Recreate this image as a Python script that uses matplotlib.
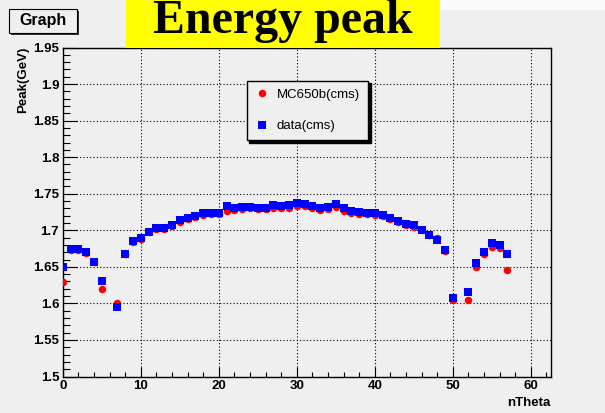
import numpy as np
import matplotlib
matplotlib.use("Agg")
import matplotlib.pyplot as plt
from matplotlib.patches import Rectangle
from matplotlib.ticker import MultipleLocator, FuncFormatter

# nTheta bins (6 and 51 have no entry)
n_theta = [0, 1, 2, 3, 4, 5, 7, 8, 9, 10, 11, 12, 13, 14, 15, 16, 17, 18, 19, 20,
           21, 22, 23, 24, 25, 26, 27, 28, 29, 30, 31, 32, 33, 34, 35, 36, 37, 38,
           39, 40, 41, 42, 43, 44, 45, 46, 47, 48, 49, 50, 52, 53, 54, 55, 56, 57]

# fitted peak positions (GeV)
peak_mc = [1.629, 1.673, 1.673, 1.669, 1.656, 1.619, 1.600, 1.667, 1.684, 1.688,
           1.697, 1.702, 1.702, 1.706, 1.712, 1.716, 1.718, 1.721, 1.722, 1.722,
           1.727, 1.728, 1.729, 1.730, 1.729, 1.729, 1.731, 1.730, 1.731, 1.733,
           1.733, 1.731, 1.728, 1.729, 1.732, 1.727, 1.724, 1.722, 1.722, 1.721,
           1.719, 1.715, 1.711, 1.707, 1.705, 1.700, 1.693, 1.690, 1.672, 1.605,
           1.604, 1.650, 1.668, 1.677, 1.676, 1.645]
peak_data = [1.650, 1.675, 1.675, 1.670, 1.657, 1.630, 1.595, 1.668, 1.685, 1.689,
             1.698, 1.703, 1.703, 1.707, 1.714, 1.717, 1.720, 1.723, 1.724, 1.724,
             1.733, 1.731, 1.732, 1.732, 1.731, 1.731, 1.735, 1.733, 1.735, 1.737,
             1.736, 1.733, 1.731, 1.732, 1.736, 1.730, 1.726, 1.725, 1.724, 1.723,
             1.721, 1.717, 1.713, 1.709, 1.707, 1.701, 1.694, 1.687, 1.673, 1.607,
             1.615, 1.655, 1.670, 1.682, 1.680, 1.667]

W, H = 605, 413
bg = "#efefef"
sans = ["Liberation Sans", "DejaVu Sans"]

fig = plt.figure(figsize=(W / 100, H / 100), dpi=100, facecolor=bg)
ax = fig.add_axes([62.7 / W, 1 - 376.5 / H, (551 - 62.7) / W, (376.5 - 47.5) / H])
ax.set_facecolor(bg)

ax.plot(n_theta, peak_mc, "o", color="red", ms=5.4, mew=0, label="MC650b(cms)", zorder=3)
ax.plot(n_theta, peak_data, "s", color="blue", ms=5.8, mew=0, label="data(cms)", zorder=4)

ax.set_xlim(0, 62.6)
ax.set_ylim(1.5, 1.95)

ax.xaxis.set_major_locator(MultipleLocator(10))
ax.xaxis.set_minor_locator(MultipleLocator(2))
ax.yaxis.set_major_locator(MultipleLocator(0.05))
ax.yaxis.set_minor_locator(MultipleLocator(0.01))
ax.yaxis.set_major_formatter(FuncFormatter(lambda v, p: f"{v:g}"))

ax.tick_params(axis="both", which="both", direction="in", top=False, right=False,
               color="black", width=0.8)
ax.tick_params(axis="y", which="major", length=10, pad=2.5)
ax.tick_params(axis="y", which="minor", length=5)
ax.tick_params(axis="x", which="major", length=7, pad=2.5)
ax.tick_params(axis="x", which="minor", length=3.6)
for lab in ax.get_xticklabels() + ax.get_yticklabels():
    lab.set_fontfamily(sans)
    lab.set_fontweight("bold")
    lab.set_fontsize(9.5)

ax.grid(True, which="major", color="black", linestyle=(0, (1, 2)), linewidth=0.8)
for sp in ax.spines.values():
    sp.set_linewidth(1.0)
    sp.set_color("black")

leg = ax.legend(loc="upper left", bbox_to_anchor=(246.7 / W, 1 - 80.7 / H),
                bbox_transform=fig.transFigure, borderaxespad=0, fancybox=False,
                edgecolor="black", facecolor=bg, framealpha=1,
                shadow={"color": "black", "alpha": 1},
                prop={"family": sans, "size": 9.5}, borderpad=0.6,
                handlelength=1.1, handletextpad=0.58, labelspacing=1.47,
                numpoints=1, markerscale=1.0)
leg.get_frame().set_linewidth(1.0)

# axis titles
fig.text(551 / W, 1 - 397 / H, "nTheta", ha="right", va="top",
         fontfamily=sans, fontweight="bold", fontsize=9.5)
fig.text(23 / W, 1 - 47 / H, "Peak(GeV)", rotation=90, ha="center", va="top",
         fontfamily=sans, fontweight="bold", fontsize=9.5)

# white strip along the top edge
fig.add_artist(Rectangle((440 / W, 1 - 10 / H), 1 - 440 / W, 10 / H,
                         transform=fig.transFigure, facecolor="#fbfbfb",
                         edgecolor="none", zorder=1))

# "Graph" name box with shadow
fig.add_artist(Rectangle((11 / W, 1 - 35 / H), 68 / W, 24 / H, transform=fig.transFigure,
                         facecolor="#333333", edgecolor="none", zorder=4))
fig.add_artist(Rectangle((9 / W, 1 - 33 / H), 68 / W, 24 / H, transform=fig.transFigure,
                         facecolor=bg, edgecolor="black", linewidth=0.8, zorder=5))
fig.text(43 / W, 1 - 21 / H, "Graph", ha="center", va="center", fontfamily=sans,
         fontweight="bold", fontsize=11.5, zorder=6)

# yellow title banner
fig.add_artist(Rectangle((126 / W, 1 - 48 / H), 314 / W, 48 / H, transform=fig.transFigure,
                         facecolor="#ffff00", edgecolor="none", zorder=5))
fig.text(283 / W, 1 - 33 / H, "Energy peak", ha="center", va="baseline",
         fontfamily=["Liberation Serif", "DejaVu Serif"], fontweight="bold",
         fontsize=34.5, color="black", zorder=6)

fig.savefig("out.png", dpi=100, facecolor=bg)
